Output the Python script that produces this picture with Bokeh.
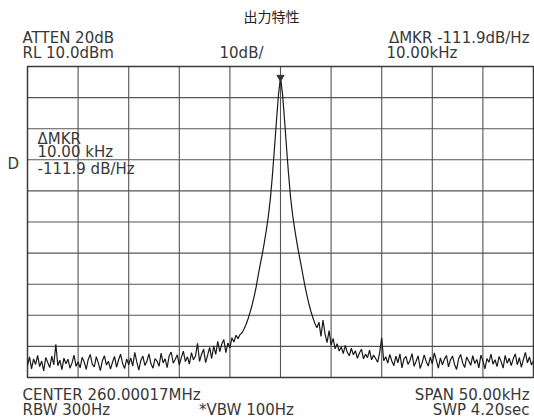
import numpy as np
from bokeh.plotting import figure
from bokeh.models import Label, Range1d
from bokeh.embed import file_html
from bokeh.resources import INLINE

# ---- analyzer settings ----
center_mhz = 260.00017
span_khz = 50.0
ref_level_dbm = 10.0
db_per_div = 10.0
divisions = 10

# ---- trace (dBm), sweep from -25 kHz to +25 kHz ----
left_noise_dbm = [
    -86.1, -83.4, -87.2, -84.0, -85.8, -82.9, -86.5, -84.7, -87.9, -83.6,
    -85.2, -86.8, -83.1, -85.9, -79.3, -86.2, -84.4, -87.5, -83.8, -85.6,
    -84.1, -87.0, -85.3, -82.8, -86.4, -84.9, -86.9, -83.5, -85.0, -87.4,
    -84.2, -82.6, -85.7, -86.6, -83.3, -85.4, -87.8, -84.6, -83.0, -86.0,
    -84.8, -87.3, -85.1, -83.2, -86.7, -84.3, -82.5, -85.5, -87.1, -84.0,
    -85.9, -83.7, -86.3, -81.9, -85.0, -87.6, -84.5, -83.1, -86.1, -84.8,
    -82.4, -85.6, -87.0, -83.9, -84.7, -86.4, -82.2, -85.3, -84.0, -86.8,
    -83.0, -81.8, -85.4, -84.1, -82.7, -86.0, -83.6, -81.5, -84.9, -83.3,
    -85.7, -82.0, -84.3, -83.1, -79.0, -84.8, -82.5, -80.9, -85.2, -82.8,
    -80.3, -83.9, -79.8, -82.6, -78.4, -81.7, -79.2, -77.8, -82.0, -78.9,
    -80.5, -77.2, -78.6, -76.4,
]
peak_dbm = [
    -77.5, -76.2, -75.6, -74.4, -72.9, -71.1, -69.0, -66.6, -63.9, -60.8,
    -57.1, -53.6, -50.3, -46.6, -42.6, -38.1, -32.5, -25.0, -16.5, -7.5,
    1.0, 6.5, 1.2,
    -7.2, -16.2, -24.8, -32.2, -37.8, -42.2, -46.2, -49.9, -53.2, -56.8,
    -60.3, -63.4, -66.2, -68.7, -70.8, -72.6, -74.0, -72.2, -76.8, -71.5,
]
right_noise_dbm = [
    -76.0, -78.8, -74.9,
    -79.6, -77.4, -80.8, -79.1, -81.5, -80.2, -82.3, -79.7, -81.9, -83.0,
    -80.6, -82.7, -81.4, -83.8, -82.1, -80.9, -84.0, -82.5, -83.6, -81.2,
    -84.3, -82.8, -83.9, -85.1, -82.0, -77.2, -84.6, -83.3, -85.4, -82.6,
    -84.7, -86.2, -83.1, -85.3, -82.4, -86.9, -84.0, -83.2, -85.8, -84.5,
    -82.3, -86.4, -84.8, -83.0, -87.1, -85.2, -82.7, -84.9, -86.3, -83.5,
    -85.6, -82.1, -84.4, -87.0, -83.7, -85.9, -84.1, -82.9, -86.6, -84.3,
    -83.1, -85.8, -87.4, -84.0, -82.6, -85.3, -86.8, -83.4, -84.7, -86.1,
    -83.0, -85.5, -84.2, -86.9, -82.8, -84.6, -87.2, -83.9, -85.1, -82.5,
    -85.7, -84.3, -86.5, -83.2, -84.9, -87.0, -82.9, -85.4, -83.8, -86.2,
    -84.0, -82.4, -85.9, -83.6, -86.7, -84.2, -81.9, -85.3, -83.4, -86.0,
    -84.6,
]

# ---- texts ----
title_text = "出力特性"
header_left = ["ATTEN 20dB", "RL 10.0dBm"]
header_mid = "10dB/"
header_right = ["ΔMKR -111.9dB/Hz", "10.00kHz"]
marker_box = ["ΔMKR", "10.00 kHz", "-111.9 dB/Hz"]
side_mark = "D"
footer_left = ["CENTER 260.00017MHz", "RBW 300Hz"]
footer_mid = "*VBW 100Hz"
footer_right = ["SPAN 50.00kHz", "SWP 4.20sec"]

trace_dbm = left_noise_dbm + peak_dbm + right_noise_dbm
n = len(trace_dbm)
freq_khz = np.linspace(-span_khz / 2, span_khz / 2, n)
i_peak = int(np.argmax(trace_dbm))

# ---- page geometry (pixels) ----
W, H = 534, 417
scr_l, scr_r, scr_t, scr_b = 27, 533, 66, 377
bottom_level = ref_level_dbm - db_per_div * divisions
kx = span_khz / (scr_r - scr_l)                 # kHz per px
ky = (ref_level_dbm - bottom_level) / (scr_b - scr_t)  # dB per px
x0 = -span_khz / 2 - scr_l * kx
x1 = span_khz / 2 + (W - scr_r) * kx
y1 = ref_level_dbm + scr_t * ky
y0 = bottom_level - (H - scr_b) * ky

p = figure(width=W, height=H, output_backend="svg", toolbar_location=None,
           x_range=Range1d(x0, x1), y_range=Range1d(y0, y1),
           x_axis_location=None, y_axis_location=None,
           min_border=0, min_border_left=0, min_border_right=0,
           min_border_top=0, min_border_bottom=0)
p.background_fill_color = "white"
p.border_fill_color = "white"
p.outline_line_color = None
p.grid.visible = False

# graticule
step_x = span_khz / divisions
gx = [-span_khz / 2 + k * step_x for k in range(1, divisions)]
gy = [bottom_level + k * db_per_div for k in range(1, divisions)]
p.segment(x0=gx, y0=[bottom_level] * len(gx), x1=gx, y1=[ref_level_dbm] * len(gx),
          line_color="#555555", line_width=1.1)
p.segment(x0=[-span_khz / 2] * len(gy), y0=gy, x1=[span_khz / 2] * len(gy), y1=gy,
          line_color="#555555", line_width=1.1)
p.quad(left=[-span_khz / 2], right=[span_khz / 2], bottom=[bottom_level], top=[ref_level_dbm],
       fill_color=None, line_color="#3a3a3a", line_width=1.5)

p.line(freq_khz, trace_dbm, line_color="#1a1a1a", line_width=1.2)
p.scatter([freq_khz[i_peak]], [trace_dbm[i_peak]], marker="inverted_triangle",
          size=7, fill_color="#333333", line_color="#333333")


def px2data(px, py):
    return x0 + px * kx, y1 - py * ky


def put(text, px, py, size="15px", font="DejaVu Sans", align="left", color="#383838"):
    x, y = px2data(px, py)
    p.add_layout(Label(x=x, y=y, text=text, text_align=align, text_baseline="middle",
                       text_font=font, text_font_size=size, text_color=color))


put(title_text, 271, 15, size="14px", font="Noto Sans CJK JP", align="center", color="#222222")
put(header_left[0], 22, 37)
put(header_left[1], 22, 52)
put(header_mid, 241, 52, align="center")
put(header_right[0], 529, 37, align="right")
put(header_right[1], 386, 52)
put(marker_box[0], 37, 138)
put(marker_box[1], 37, 151)
put(marker_box[2], 37, 168)
put(side_mark, 7, 163)
put(footer_left[0], 22, 394)
put(footer_left[1], 22, 409)
put(footer_mid, 246, 409, align="center")
put(footer_right[0], 529, 394, align="right")
put(footer_right[1], 529, 409, align="right")

open("out.html", "w").write(file_html(p, INLINE))
